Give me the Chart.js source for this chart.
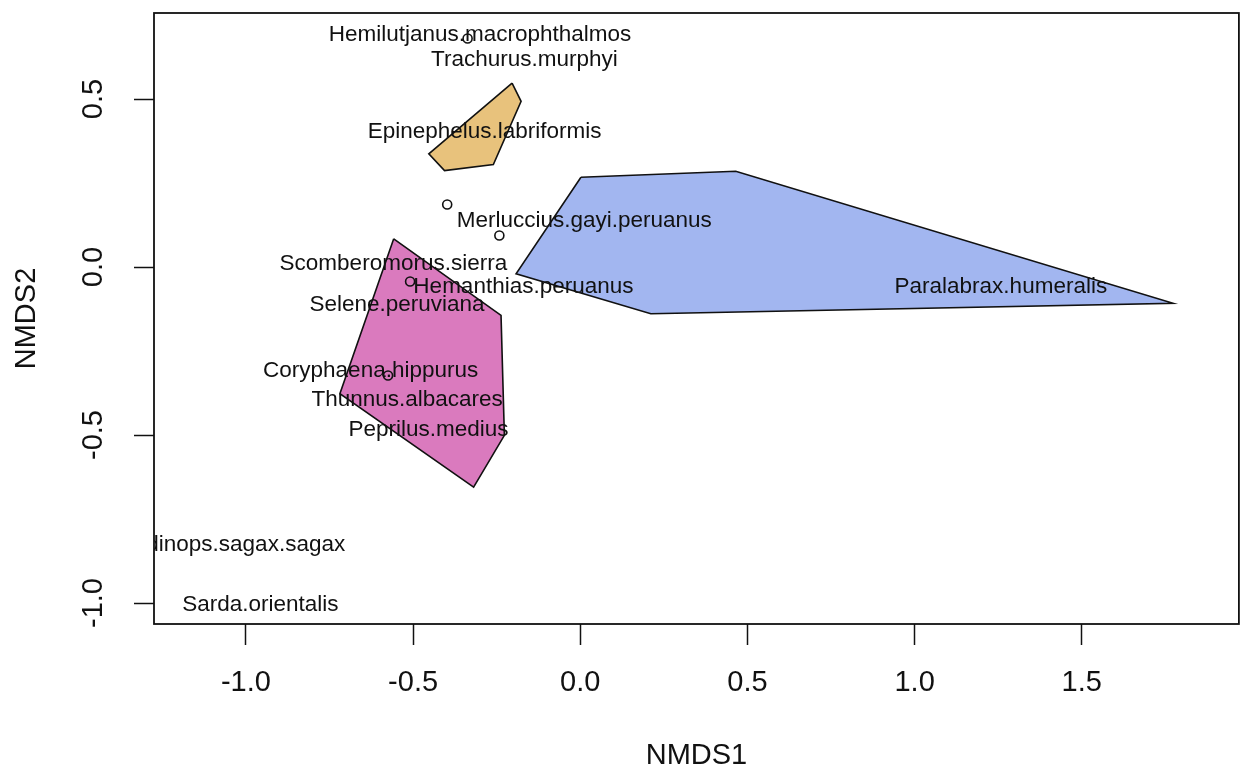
<!DOCTYPE html>
<html>
<head>
<meta charset="utf-8">
<script src="https://cdn.jsdelivr.net/npm/chart.js@4/dist/chart.umd.min.js"></script>
<style>
  html, body { margin: 0; padding: 0; background: #ffffff; }
  #wrap { width: 1245px; height: 770px; }
</style>
</head>
<body>
<div id="wrap"><canvas id="c" width="1245" height="770"></canvas></div>
<script>
// ---- data ----
const xTickValues = [-1.0, -0.5, 0.0, 0.5, 1.0, 1.5];
const yTickValues = [-1.0, -0.5, 0.0, 0.5];

const speciesNames = [
  'Hemilutjanus.macrophthalmos', 'Trachurus.murphyi', 'Epinephelus.labriformis',
  'Merluccius.gayi.peruanus', 'Scomberomorus.sierra', 'Hemanthias.peruanus',
  'Selene.peruviana', 'Paralabrax.humeralis', 'Coryphaena.hippurus',
  'Thunnus.albacares', 'Peprilus.medius', 'Sardinops.sagax.sagax', 'Sarda.orientalis'
];
const speciesX = [-0.300, -0.167, -0.286, 0.012, -0.559, -0.170, -0.548, 1.258, -0.627, -0.518, -0.454, -1.053, -0.957];
const speciesY = [0.691, 0.617, 0.401, 0.138, 0.010, -0.058, -0.112, -0.060, -0.308, -0.394, -0.484, -0.826, -1.004];

const siteX = [-0.337, -0.398, -0.242, -0.509, -0.575];
const siteY = [0.680, 0.186, 0.094, -0.043, -0.323];

const hullOrangeX = [-0.204, -0.177, -0.260, -0.406, -0.453];
const hullOrangeY = [0.547, 0.493, 0.305, 0.287, 0.337];
const hullBlueX = [0.002, 0.465, 1.773, 0.211, -0.192];
const hullBlueY = [0.267, 0.285, -0.108, -0.139, -0.020];
const hullPinkX = [-0.558, -0.237, -0.227, -0.319, -0.719];
const hullPinkY = [0.084, -0.144, -0.501, -0.655, -0.377];

// ---- helpers ----
const FONT = "'Liberation Sans', Arial, Helvetica, sans-serif";
const TXT = '#111111';
function closedPoly(xs, ys) {
  const pts = xs.map((x, i) => ({ x: x, y: ys[i] }));
  pts.push({ x: xs[0], y: ys[0] });
  return pts;
}
function hullDataset(xs, ys, fillColor, ord) {
  return {
    data: closedPoly(xs, ys),
    showLine: true,
    fill: 'shape',
    backgroundColor: fillColor,
    borderColor: '#111111',
    borderWidth: 1.6,
    pointRadius: 0,
    tension: 0,
    order: ord
  };
}

const frameAndLabels = {
  id: 'frameAndLabels',
  afterDatasetsDraw(chart) {
    const { ctx, chartArea: a, scales: { x, y } } = chart;
    // species labels, clipped to the plot region
    ctx.save();
    ctx.beginPath();
    ctx.rect(a.left, a.top, a.right - a.left, a.bottom - a.top);
    ctx.clip();
    ctx.fillStyle = TXT;
    ctx.font = '22.5px ' + FONT;
    ctx.textAlign = 'center';
    ctx.textBaseline = 'middle';
    speciesNames.forEach((n, i) => {
      ctx.fillText(n, x.getPixelForValue(speciesX[i]), y.getPixelForValue(speciesY[i]));
    });
    ctx.restore();
    // frame
    ctx.save();
    ctx.strokeStyle = '#111111';
    ctx.lineWidth = 1.8;
    ctx.strokeRect(a.left, a.top, a.right - a.left, a.bottom - a.top);
    ctx.restore();
  },
  afterDraw(chart) {
    const { ctx, scales: { y } } = chart;
    ctx.save();
    ctx.fillStyle = TXT;
    ctx.font = '29px ' + FONT;
    ctx.textAlign = 'center';
    ctx.textBaseline = 'middle';
    yTickValues.forEach(v => {
      const py = y.getPixelForValue(v);
      ctx.save();
      ctx.translate(94, py);
      ctx.rotate(-Math.PI / 2);
      ctx.fillText(v.toFixed(1), 0, 0);
      ctx.restore();
    });
    ctx.restore();
  }
};

new Chart(document.getElementById('c'), {
  type: 'scatter',
  data: {
    datasets: [
      {
        data: siteX.map((x, i) => ({ x: x, y: siteY[i] })),
        pointStyle: 'circle',
        pointRadius: 4.5,
        pointBorderWidth: 1.6,
        pointBorderColor: '#111111',
        pointBackgroundColor: 'rgba(0,0,0,0)',
        showLine: false,
        order: 0
      },
      hullDataset(hullOrangeX, hullOrangeY, '#E8C27C', 1),
      hullDataset(hullBlueX, hullBlueY, '#A2B6F0', 2),
      hullDataset(hullPinkX, hullPinkY, '#DA7ABE', 3)
    ]
  },
  options: {
    responsive: false,
    animation: false,
    layout: { padding: { top: 13, right: 4, left: 0, bottom: 0 } },
    plugins: { legend: { display: false }, tooltip: { enabled: false } },
    scales: {
      x: {
        type: 'linear',
        min: -1.275,
        max: 1.97,
        afterBuildTicks: s => { s.ticks = xTickValues.map(v => ({ value: v })); },
        afterFit: s => { s.height = 146; },
        ticks: {
          autoSkip: false,
          maxRotation: 0,
          minRotation: 0,
          padding: 21,
          color: TXT,
          font: { size: 29, family: FONT },
          callback: v => Number(v).toFixed(1)
        },
        grid: { drawOnChartArea: false, drawTicks: true, tickLength: 21, tickColor: '#111111', tickWidth: 1.5 },
        border: { display: false },
        title: { display: true, text: 'NMDS1', color: TXT, font: { size: 29, family: FONT, lineHeight: 1 }, padding: { top: 0, bottom: 0 } }
      },
      y: {
        type: 'linear',
        min: -1.0625,
        max: 0.756,
        afterBuildTicks: s => { s.ticks = yTickValues.map(v => ({ value: v })); },
        afterFit: s => { s.width = 154; },
        ticks: { display: false },
        grid: { drawOnChartArea: false, drawTicks: true, tickLength: 20, tickColor: '#111111', tickWidth: 1.5 },
        border: { display: false },
        title: { display: true, text: 'NMDS2', color: TXT, font: { size: 29, family: FONT, lineHeight: 1 }, padding: { top: 12, bottom: 0 } }
      }
    }
  },
  plugins: [frameAndLabels]
});
</script>
</body>
</html>
